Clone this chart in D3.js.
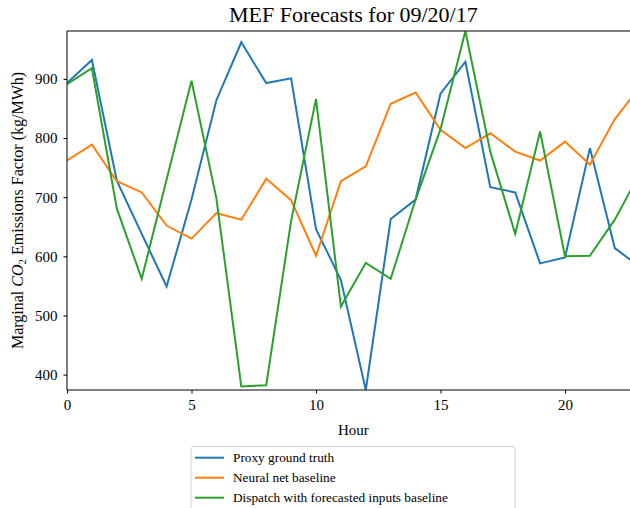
<!DOCTYPE html>
<html>
<head>
<meta charset="utf-8">
<script src="https://cdn.jsdelivr.net/npm/d3@7"></script>
<style>
  html, body { margin: 0; padding: 0; background: #fff; }
  svg { display: block; }
  text { font-family: "Liberation Serif", "DejaVu Serif", serif; fill: #000; }
</style>
</head>
<body>
<svg id="chart" width="630" height="508"></svg>
<script>
const hours = d3.range(0, 24);
const proxyTruth = [893, 932, 728, 638, 549, 696, 864, 962, 893, 901, 646, 560, 374, 663, 696, 875, 929, 717, 708, 588, 598, 783, 614, 582];
const neuralNet = [762, 789, 727, 708, 652, 630, 673, 662, 731, 695, 601, 727, 752, 858, 877, 814, 783, 808, 777, 762, 794, 755, 832, 886];
const dispatch = [891, 918, 681, 562, 730, 897, 698, 380, 382, 660, 866, 515, 589, 562, 696, 815, 981, 777, 638, 811, 600, 601, 662, 740];
const xTicks = [0, 5, 10, 15, 20];
const yTicks = [400, 500, 600, 700, 800, 900];
const seriesNames = ["Proxy ground truth", "Neural net baseline", "Dispatch with forecasted inputs baseline"];
const colors = ["#1f77b4", "#ff7f0e", "#2ca02c"];
const titleText = "MEF Forecasts for 09/20/17";

const series = [proxyTruth, neuralNet, dispatch];

const svg = d3.select("#chart");
const pL = 67, pR = 639.7, pT = 31, pB = 390;

const all = series.flat();
const x = d3.scaleLinear().domain([0, 23]).range([pL, pR]);
const y = d3.scaleLinear().domain(d3.extent(all)).range([pB, pT]);

svg.append("defs").append("clipPath").attr("id", "clip")
  .append("rect").attr("x", pL).attr("y", pT).attr("width", pR - pL).attr("height", pB - pT);

const line = d3.line().x((d, i) => x(hours[i])).y(d => y(d));

const g = svg.append("g").attr("clip-path", "url(#clip)");
series.forEach((s, k) => {
  g.append("path").datum(s)
    .attr("fill", "none")
    .attr("stroke", colors[k])
    .attr("stroke-width", 2)
    .attr("stroke-linejoin", "miter")
    .attr("d", line);
});

const xAxis = d3.axisBottom(x).tickValues(xTicks).tickSize(3.5).tickPadding(6).tickFormat(d3.format("d"));
const yAxis = d3.axisLeft(y).tickValues(yTicks).tickSize(3.5).tickPadding(6).tickFormat(d3.format("d"));

const gx = svg.append("g").attr("transform", `translate(0,${pB})`).call(xAxis);
const gy = svg.append("g").attr("transform", `translate(${pL},0)`).call(yAxis);
[gx, gy].forEach(a => {
  a.attr("font-family", null).attr("font-size", null);
  a.select(".domain").remove();
  a.selectAll("line").attr("stroke", "#000").attr("stroke-width", 1);
  a.selectAll("text").style("font-family", '"Liberation Serif", serif').style("font-size", "15px").attr("fill", "#000");
});

svg.append("line").attr("x1", pL).attr("x2", pL).attr("y1", pT).attr("y2", pB).attr("stroke", "#000").attr("stroke-width", 1);
svg.append("line").attr("x1", pL).attr("x2", pR).attr("y1", pB).attr("y2", pB).attr("stroke", "#000").attr("stroke-width", 1);
svg.append("line").attr("x1", pL).attr("x2", pR).attr("y1", pT).attr("y2", pT).attr("stroke", "#000").attr("stroke-width", 1);
svg.append("line").attr("x1", pR).attr("x2", pR).attr("y1", pT).attr("y2", pB).attr("stroke", "#000").attr("stroke-width", 1);

svg.append("text").attr("x", (pL + pR) / 2).attr("y", 22).attr("text-anchor", "middle")
  .style("font-size", "22px").text(titleText);

svg.append("text").attr("x", (pL + pR) / 2).attr("y", 435).attr("text-anchor", "middle")
  .style("font-size", "15px").text("Hour");

const yl = svg.append("text").attr("transform", `translate(23,${(pT + pB) / 2}) rotate(-90)`)
  .attr("text-anchor", "middle").style("font-size", "16px");
yl.append("tspan").text("Marginal ");
yl.append("tspan").style("font-style", "italic").text("CO");
yl.append("tspan").attr("dy", 3).style("font-size", "11px").text("2");
yl.append("tspan").attr("dy", -3).text(" Emissions Factor (kg/MWh)");

const lg = svg.append("g");
lg.append("rect").attr("x", 191).attr("y", 446.5).attr("width", 324).attr("height", 80)
  .attr("rx", 3).attr("fill", "#fff").attr("stroke", "#d0d0d0").attr("stroke-width", 1);
seriesNames.forEach((n, k) => {
  const yy = 457.7 + k * 20;
  lg.append("line").attr("x1", 195).attr("x2", 224).attr("y1", yy).attr("y2", yy)
    .attr("stroke", colors[k]).attr("stroke-width", 2);
  lg.append("text").attr("x", 233).attr("y", yy + 4.5).style("font-size", "13.3px").text(n);
});
</script>
</body>
</html>
